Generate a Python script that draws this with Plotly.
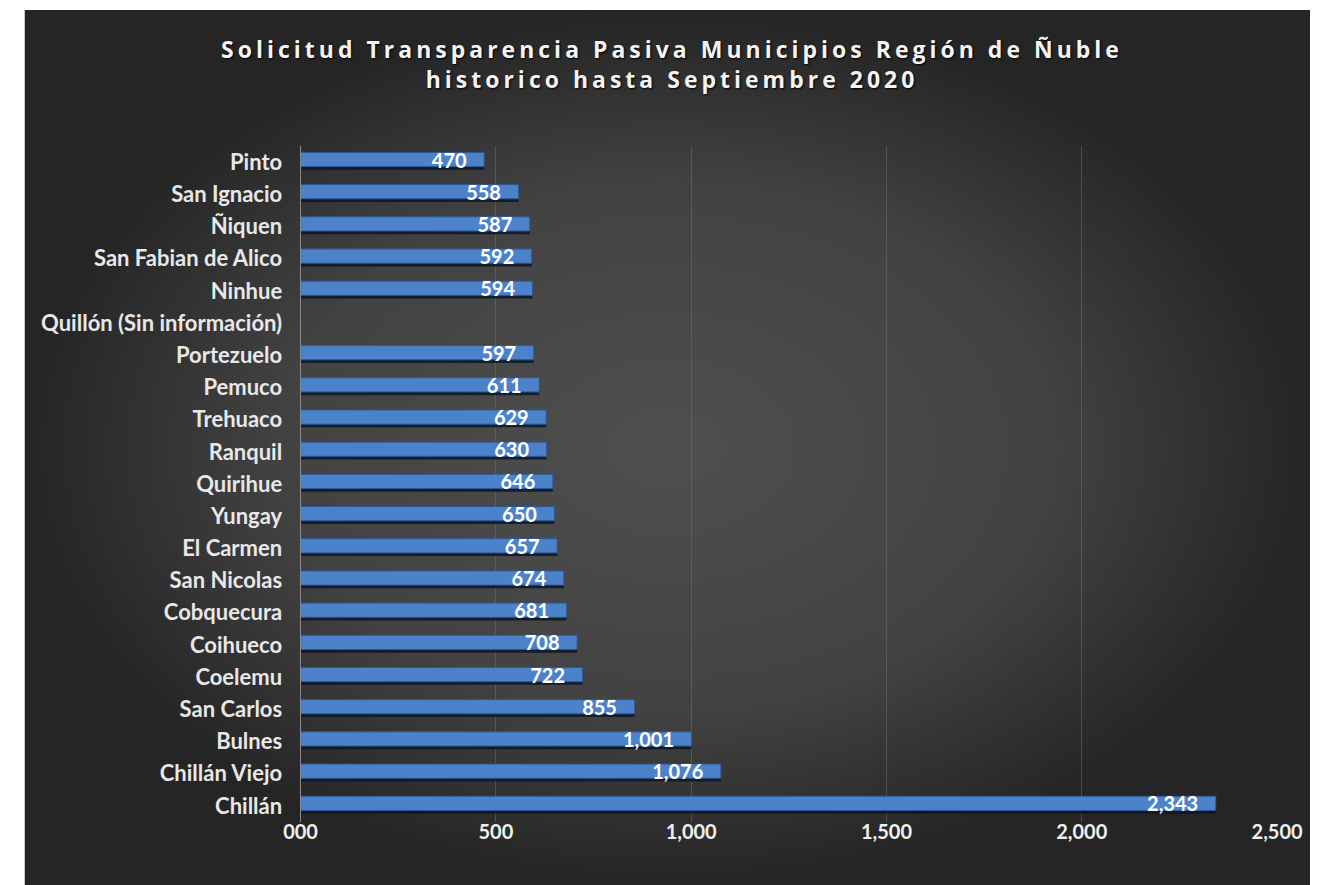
import plotly.graph_objects as go

municipios = ["Pinto", "San Ignacio", "Ñiquen", "San Fabian de Alico", "Ninhue",
              "Quillón (Sin información)", "Portezuelo", "Pemuco", "Trehuaco", "Ranquil",
              "Quirihue", "Yungay", "El Carmen", "San Nicolas", "Cobquecura", "Coihueco",
              "Coelemu", "San Carlos", "Bulnes", "Chillán Viejo", "Chillán"]
solicitudes = [470, 558, 587, 592, 594, None, 597, 611, 629, 630, 646, 650, 657, 674,
               681, 708, 722, 855, 1001, 1076, 2343]
tick_vals = [0, 500, 1000, 1500, 2000, 2500]
tick_text = ["000", "500", "1,000", "1,500", "2,000", "2,500"]
title_lines = ["Solicitud Transparencia Pasiva Municipios Región de Ñuble",
               "historico hasta Septiembre 2020"]

W, H = 1336, 885
LBL = "Lato, 'Open Sans', sans-serif"
PAD = "\u00a0\u00a0\u00a0"

fig = go.Figure()

# background panel with radial gradient (decorative)
fig.add_trace(go.Scatter(
    x=[8, W, W, 8, 8], y=[0, 0, H - 10, H - 10, 0],
    mode="lines", line=dict(width=0), fill="toself",
    fillgradient=dict(type="radial",
                      colorscale=[[0, "#4f4f4f"], [0.6, "#424242"], [1, "#252525"]]),
    hoverinfo="skip", showlegend=False, xaxis="x", yaxis="y"))

# shadow bars
fig.add_trace(go.Bar(
    y=municipios, x=solicitudes, orientation="h",
    width=0.44, offset=-0.20,
    marker=dict(color="rgba(12,22,38,0.85)", line=dict(width=0)),
    hoverinfo="skip", showlegend=False, xaxis="x2", yaxis="y2"))

# main bars
fig.add_trace(go.Bar(
    y=municipios, x=solicitudes, orientation="h",
    width=0.44, offset=-0.30,
    marker=dict(color="#4c82ca", line=dict(color="#2c5a96", width=1)),
    text=[("" if v is None else f"{v:,}" + PAD) for v in solicitudes],
    textposition="inside", insidetextanchor="end", constraintext="none",
    textfont=dict(family=LBL, size=20, color="#ffffff", weight="bold"),
    cliponaxis=False, showlegend=False, xaxis="x2", yaxis="y2"))

title_html = "<br>".join(
    f'<span style="letter-spacing:4px">{t}</span>' for t in title_lines)

fig.update_layout(
    autosize=True,
    margin=dict(l=0, r=0, t=0, b=0),
    paper_bgcolor="#ffffff", plot_bgcolor="rgba(0,0,0,0)",
    barmode="overlay",
    showlegend=False,
    title=dict(
        text=title_html,
        x=0.503, xanchor="center", y=1 - 58 / H, yanchor="middle",
        font=dict(family="'Open Sans', sans-serif", size=23, color="#f4f4f4", weight="bold",
                  shadow="1px 1px 2px #000000")),
    xaxis=dict(domain=[0, 1], range=[0, W], visible=False, fixedrange=True),
    yaxis=dict(domain=[0, 1], range=[0, H], visible=False, fixedrange=True),
    xaxis2=dict(domain=[293 / W, 1302 / W], range=[0, 2500], anchor="y2",
                tickvals=tick_vals, ticktext=tick_text,
                showgrid=True, gridcolor="rgba(120,120,120,0.45)", gridwidth=1,
                zeroline=False, showline=False, ticks="",
                tickfont=dict(family=LBL, size=20, color="#f0f0f0", weight="bold"),
                ticklabelstandoff=-4),
    yaxis2=dict(domain=[63 / H, 739 / H], anchor="x2", autorange="reversed",
                type="category", showgrid=False, zeroline=False,
                showline=True, linecolor="#8a8a8a", linewidth=1, ticks="",
                tickfont=dict(family=LBL, size=22, color="#e8e8e8", weight="bold"),
                ticklabelstandoff=13),
)

fig.write_html(
    "out.html",
    config={"displayModeBar": False, "responsive": True},
    default_width="100vw", default_height="100vh",
    post_script=("document.body.style.margin='0px';"
                 "document.body.style.overflow='hidden';"
                 "Plotly.Plots.resize(document.getElementById('{plot_id}'));"),
)
